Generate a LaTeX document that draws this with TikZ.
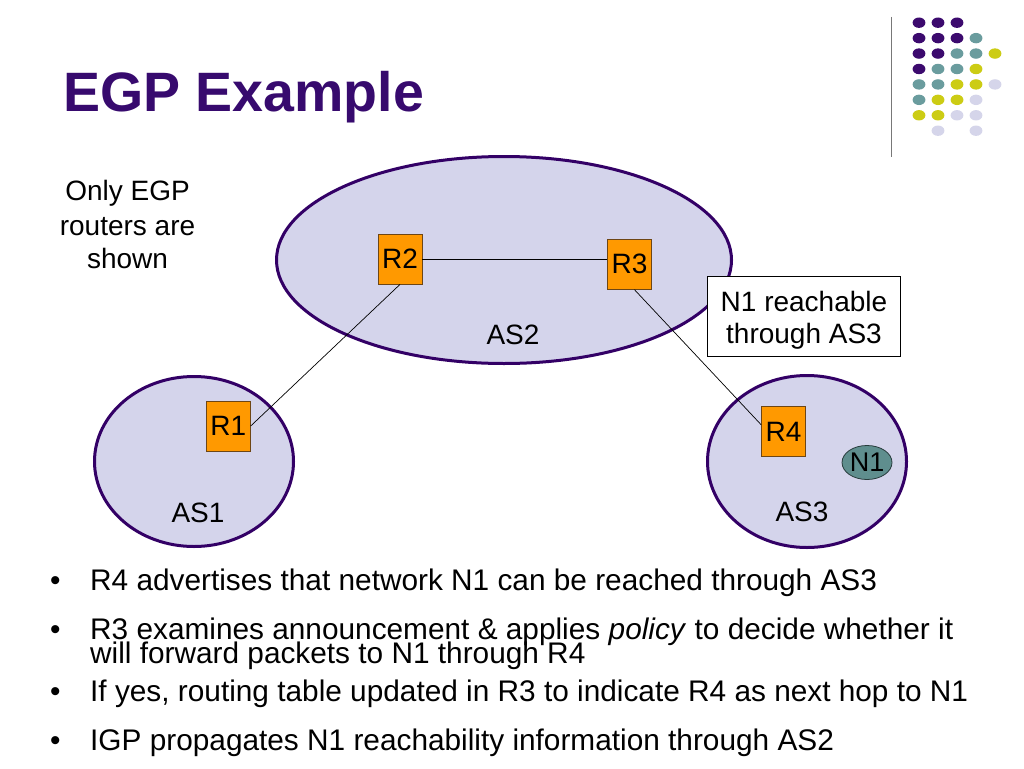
\documentclass[tikz,border=0pt]{standalone}
\usepackage{fontspec}
\setmainfont{Liberation Sans}
\usetikzlibrary{shapes.geometric}
\definecolor{titlepurple}{RGB}{55,10,110}
\definecolor{edgepurple}{RGB}{51,0,102}
\definecolor{asfill}{RGB}{212,212,235}
\definecolor{routerfill}{RGB}{255,153,0}
\definecolor{routeredge}{RGB}{110,70,20}
\definecolor{netfill}{RGB}{95,142,142}
\definecolor{netedge}{RGB}{40,60,60}
\definecolor{dotP}{RGB}{60,10,110}
\definecolor{dotT}{RGB}{106,156,158}
\definecolor{dotY}{RGB}{204,204,20}
\definecolor{dotL}{RGB}{213,213,234}
\definecolor{rulegray}{RGB}{120,120,120}
\begin{document}
\begin{tikzpicture}[x=1pt,y=-1pt,
  asbox/.style={ellipse, draw=edgepurple, line width=3pt, fill=asfill, inner sep=0pt},
  router/.style={rectangle, draw=routeredge, line width=0.8pt, fill=routerfill,
    minimum width=44pt, minimum height=50pt, inner sep=0pt, font=\fontsize{28}{32}\selectfont},
  lbl/.style={inner sep=0pt, font=\fontsize{28}{32}\selectfont},
  bultext/.style={inner sep=0pt, anchor=base west, font=\fontsize{29.8}{34}\selectfont},
  link/.style={draw=black, line width=0.7pt}]
\useasboundingbox (0,0) rectangle (1024,768);
\fill[white] (0,0) rectangle (1024,768);

% decoration: dot grid and rule
\draw[rulegray, line width=1.5pt] (891.7,17) coordinate (ruleA) -- (891.7,157) coordinate (ruleB);
\foreach \c/\r/\col in {0/0/dotP,1/0/dotP,2/0/dotP,
  0/1/dotP,1/1/dotP,2/1/dotP,3/1/dotT,
  0/2/dotP,1/2/dotP,2/2/dotT,3/2/dotT,4/2/dotY,
  0/3/dotP,1/3/dotT,2/3/dotT,3/3/dotY,
  0/4/dotT,1/4/dotT,2/4/dotY,3/4/dotY,4/4/dotL,
  0/5/dotT,1/5/dotY,2/5/dotY,3/5/dotL,
  0/6/dotY,1/6/dotY,2/6/dotL,3/6/dotL,
  1/7/dotL,3/7/dotL}
  \fill[\col] ({919+19*\c},{22.7+15.43*\r}) ellipse [x radius=6.4pt, y radius=5.2pt];

% title
\node[inner sep=0pt, anchor=base west, text=titlepurple,
  font=\fontsize{55.5}{60}\selectfont\bfseries] (title) at (63,111.5) {EGP Example};

% note
\node[lbl, anchor=base] (only1) at (127.5,200) {Only EGP};
\node[lbl, anchor=base] (only2) at (127.5,235) {routers are};
\node[lbl, anchor=base] (only3) at (127.5,268.3) {shown};

% autonomous systems
\node[asbox, minimum width=455pt, minimum height=207pt] (AS2) at (504,260) {};
\node[asbox, minimum width=199pt, minimum height=170pt] (AS1) at (194,461.5) {};
\node[asbox, minimum width=199pt, minimum height=172pt] (AS3) at (807,461.5) {};
\node[lbl] (AS2lbl) at (513,335) {AS2};
\node[lbl] (AS1lbl) at (198,513) {AS1};
\node[lbl] (AS3lbl) at (802,512) {AS3};

% routers
\node[router] (R2) at (400,259) {R2};
\node[router] (R3) at (629.5,264.3) {R3};
\node[router] (R1) at (228.3,426) {R1};
\node[router] (R4) at (783.5,431.7) {R4};
\node[ellipse, draw=netedge, line width=0.8pt, fill=netfill, minimum width=50pt,
  minimum height=34pt, inner sep=0pt, font=\fontsize{27}{30}\selectfont] (N1) at (867,462.5) {N1};

% links
\draw[link] (R2.south) -- (R1.east);
\draw[link] (R2.east) -- (R2.east -| R3.west);
\draw[link] ([xshift=5pt]R3.south) -- ([yshift=7pt]R4.west);

% callout
\node[draw=black, line width=0.8pt, fill=white, minimum width=193pt, minimum height=80pt,
  inner sep=0pt] (callout) at (804,316) {};
\node[align=center, inner sep=0pt, font=\fontsize{28}{31.7}\selectfont] (callouttext)
  at (804,320) {N1 reachable\\through AS3};

% bullets
\node[bultext] (d1) at (50,590) {•};
\node[bultext] (b1) at (90,590) {R4 advertises that network N1 can be reached through AS3};
\node[bultext] (d2) at (50,639) {•};
\node[bultext] (b2) at (90,639) {R3 examines announcement \& applies \textit{policy} to decide whether it};
\node[bultext] (b2b) at (90,663.8) {will forward packets to N1 through R4};
\node[bultext] (d3) at (50,701.7) {•};
\node[bultext] (b3) at (90,701.7) {If yes, routing table updated in R3 to indicate R4 as next hop to N1};
\node[bultext] (d4) at (50,750) {•};
\node[bultext] (b4) at (90,750) {IGP propagates N1 reachability information through AS2};
\end{tikzpicture}
\end{document}
